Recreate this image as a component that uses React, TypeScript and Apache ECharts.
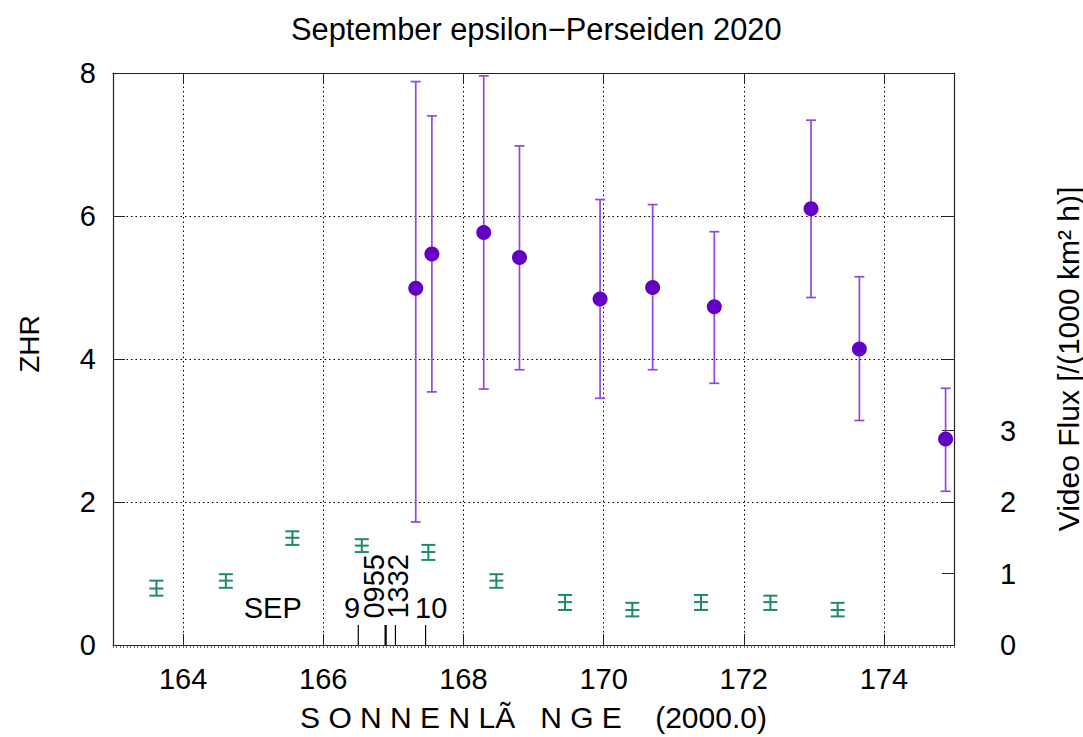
import React, { useEffect, useRef } from "react";
import * as echarts from "echarts";

const FONT = "'Liberation Sans', Arial, Helvetica, sans-serif";

// ZHR (left axis)
const zhrLon = [167.32, 167.55, 168.29, 168.8, 169.95, 170.7, 171.58, 172.96, 173.65, 174.88];
const zhrVal = [4.99, 5.47, 5.77, 5.42, 4.84, 5.0, 4.73, 6.1, 4.14, 2.88];
const zhrLo = [1.72, 3.54, 3.58, 3.85, 3.45, 3.85, 3.66, 4.86, 3.14, 2.15];
const zhrHi = [7.88, 7.4, 7.96, 6.98, 6.23, 6.16, 5.78, 7.34, 5.15, 3.59];

// Video flux (right axis)
const vfLon = [163.62, 164.61, 165.56, 166.55, 167.5, 168.47, 169.45, 170.41, 171.39, 172.38, 173.34];
const vfVal = [0.79, 0.9, 1.5, 1.39, 1.3, 0.9, 0.6, 0.49, 0.6, 0.6, 0.49];
const vfLo = [0.69, 0.8, 1.4, 1.3, 1.19, 0.8, 0.49, 0.4, 0.49, 0.49, 0.4];
const vfHi = [0.9, 0.99, 1.59, 1.48, 1.4, 0.99, 0.7, 0.59, 0.7, 0.69, 0.59];

// Date markers
const markLon = [166.5, 166.89, 167.03, 167.46];
const markHeight = [0.28, 0.28, 0.28, 0.28];
const dateLabels = ["SEP", "9", "0955", "1332", "10"];
const dateLabelLon = [165.28, 166.41, 166.73, 167.07, 167.54];
const dateLabelY = [0.52, 0.52, 0.82, 0.82, 0.52];
const dateLabelRot = [0, 0, 90, 90, 0];

const xTicks = [164, 166, 168, 170, 172, 174];
const y2Labels = [0, 1, 2, 3];
const y2Ticks = [0, 1, 2, 3, 4, 6];

function errRenderer(color: string, capHalf: number, width: number, mid: boolean) {
  return (params: any, api: any) => {
    const x = api.value(0);
    const pLo = api.coord([x, api.value(2)]);
    const pHi = api.coord([x, api.value(3)]);
    const st = { stroke: color, lineWidth: width };
    const children: any[] = [
      { type: "line", shape: { x1: pLo[0], y1: pLo[1], x2: pHi[0], y2: pHi[1] }, style: st },
      { type: "line", shape: { x1: pLo[0] - capHalf, y1: pLo[1], x2: pLo[0] + capHalf, y2: pLo[1] }, style: st },
      { type: "line", shape: { x1: pHi[0] - capHalf, y1: pHi[1], x2: pHi[0] + capHalf, y2: pHi[1] }, style: st },
    ];
    if (mid) {
      const pM = api.coord([x, api.value(1)]);
      children.push({ type: "line", shape: { x1: pM[0] - capHalf, y1: pM[1], x2: pM[0] + capHalf, y2: pM[1] }, style: st });
    }
    return { type: "group", children };
  };
}

export default function App() {
  const ref = useRef<HTMLDivElement>(null);
  useEffect(() => {
    if (!ref.current) return;
    const chart = echarts.init(ref.current, null, { renderer: "svg" });
    const axisLineStyle = { color: "#222", width: 1.2 };
    const gridLine = { color: "#000", width: 1, type: [1.5, 3] as any };
    const option: any = {
      animation: false,
      backgroundColor: "#fff",
      title: {
        text: "September epsilon\u2212Perseiden 2020",
        left: 286,
        top: 9,
        textStyle: { fontFamily: FONT, fontSize: 30.8, fontWeight: "normal", color: "#000" },
      },
      grid: { left: 113, right: 129, top: 73, bottom: 91 },
      graphic: [
        {
          type: "text",
          x: 29,
          y: 344,
          rotation: Math.PI / 2,
          style: { text: "ZHR", font: `28px ${FONT}`, fill: "#000", align: "center", verticalAlign: "middle" },
        },
        {
          type: "text",
          x: 1068,
          y: 359,
          rotation: Math.PI / 2,
          style: {
            text: "Video Flux [/(1000 km\u00b2 h)]",
            font: `30px ${FONT}`,
            fill: "#000",
            align: "center",
            verticalAlign: "middle",
          },
        },
      ],
      xAxis: [
        {
          type: "value",
          min: 163,
          max: 175,
          position: "bottom",
          name: "S O N N E N L\u00c3\u00a0\u00a0 N G E\u00a0\u00a0\u00a0 (2000.0)",
          nameLocation: "middle",
          nameGap: 57,
          nameTextStyle: { fontFamily: FONT, fontSize: 30, color: "#000" },
          axisLine: { show: true, onZero: false, lineStyle: axisLineStyle },
          axisTick: { show: true, inside: true, length: 11, customValues: xTicks, lineStyle: { color: "#222" } },
          axisLabel: { customValues: xTicks, fontFamily: FONT, fontSize: 29, color: "#000", margin: 19 },
          splitLine: { show: true, lineStyle: gridLine },
        },
        {
          type: "value",
          min: 163,
          max: 175,
          position: "top",
          axisLine: { show: true, onZero: false, lineStyle: axisLineStyle },
          axisTick: { show: true, inside: true, length: 11, customValues: xTicks, lineStyle: { color: "#222" } },
          axisLabel: { show: false },
          splitLine: { show: false },
        },
        {
          type: "value",
          min: 163,
          max: 175,
          interval: 0.05,
          position: "bottom",
          axisLine: { show: false, onZero: false },
          axisTick: { show: true, inside: false, length: 3, lineStyle: { color: "#444", width: 0.8 } },
          axisLabel: { show: false },
          splitLine: { show: false },
        },
      ],
      yAxis: [
        {
          type: "value",
          min: 0,
          max: 8,
          interval: 2,
          position: "left",
          axisLine: { show: true, onZero: false, lineStyle: axisLineStyle },
          axisTick: { show: true, inside: true, length: 12, lineStyle: { color: "#222" } },
          axisLabel: { fontFamily: FONT, fontSize: 29, color: "#000", margin: 17 },
          splitLine: { show: true, lineStyle: gridLine },
        },
        {
          type: "value",
          min: 0,
          max: 8,
          interval: 1,
          position: "right",
          axisLine: { show: true, onZero: false, lineStyle: axisLineStyle },
          axisTick: { show: true, inside: true, length: 12, customValues: y2Ticks, lineStyle: { color: "#222" } },
          axisLabel: { customValues: y2Labels, fontFamily: FONT, fontSize: 29, color: "#000", margin: 46 },
          splitLine: { show: false },
        },
      ],
      series: [
        {
          type: "custom",
          name: "ZHR err",
          xAxisIndex: 0,
          yAxisIndex: 0,
          clip: false,
          renderItem: errRenderer("#9445e0", 5, 1.7, false),
          data: zhrLon.map((x, i) => [x, zhrVal[i], zhrLo[i], zhrHi[i]]),
          encode: { x: 0, y: [1, 2, 3] },
          z: 3,
        },
        {
          type: "scatter",
          name: "ZHR",
          xAxisIndex: 0,
          yAxisIndex: 0,
          symbol: "circle",
          symbolSize: 15,
          itemStyle: { color: "#6400c4", opacity: 1 },
          data: zhrLon.map((x, i) => [x, zhrVal[i]]),
          z: 4,
        },
        {
          type: "custom",
          name: "Video Flux",
          xAxisIndex: 0,
          yAxisIndex: 1,
          clip: false,
          renderItem: errRenderer("#1e8c62", 7, 2, true),
          data: vfLon.map((x, i) => [x, vfVal[i], vfLo[i], vfHi[i]]),
          encode: { x: 0, y: [1, 2, 3] },
          z: 3,
        },
        {
          type: "custom",
          name: "marks",
          xAxisIndex: 0,
          yAxisIndex: 0,
          clip: false,
          renderItem: (params: any, api: any) => {
            const i = params.dataIndex;
            const p0 = api.coord([markLon[i], 0]);
            const p1 = api.coord([markLon[i], markHeight[i]]);
            return {
              type: "line",
              shape: { x1: p0[0], y1: p0[1], x2: p1[0], y2: p1[1] },
              style: { stroke: "#000", lineWidth: i === 1 ? 2.2 : 1.2 },
            };
          },
          data: markLon.map((x, i) => [x, markHeight[i]]),
          z: 5,
        },
        {
          type: "custom",
          name: "dates",
          xAxisIndex: 0,
          yAxisIndex: 0,
          clip: false,
          renderItem: (params: any, api: any) => {
            const i = params.dataIndex;
            const p = api.coord([dateLabelLon[i], dateLabelY[i]]);
            return {
              type: "text",
              x: p[0],
              y: p[1],
              rotation: (dateLabelRot[i] * Math.PI) / 180,
              style: {
                text: dateLabels[i],
                fill: "#000",
                font: `29px ${FONT}`,
                align: "center",
                verticalAlign: "middle",
              },
            };
          },
          data: dateLabelLon.map((x, i) => [x, dateLabelY[i]]),
          z: 5,
        },
      ],
    };
    chart.setOption(option);
    return () => chart.dispose();
  }, []);
  return <div ref={ref} style={{ position: "absolute", left: 0, top: 0, width: 1083, height: 737 }} />;
}
